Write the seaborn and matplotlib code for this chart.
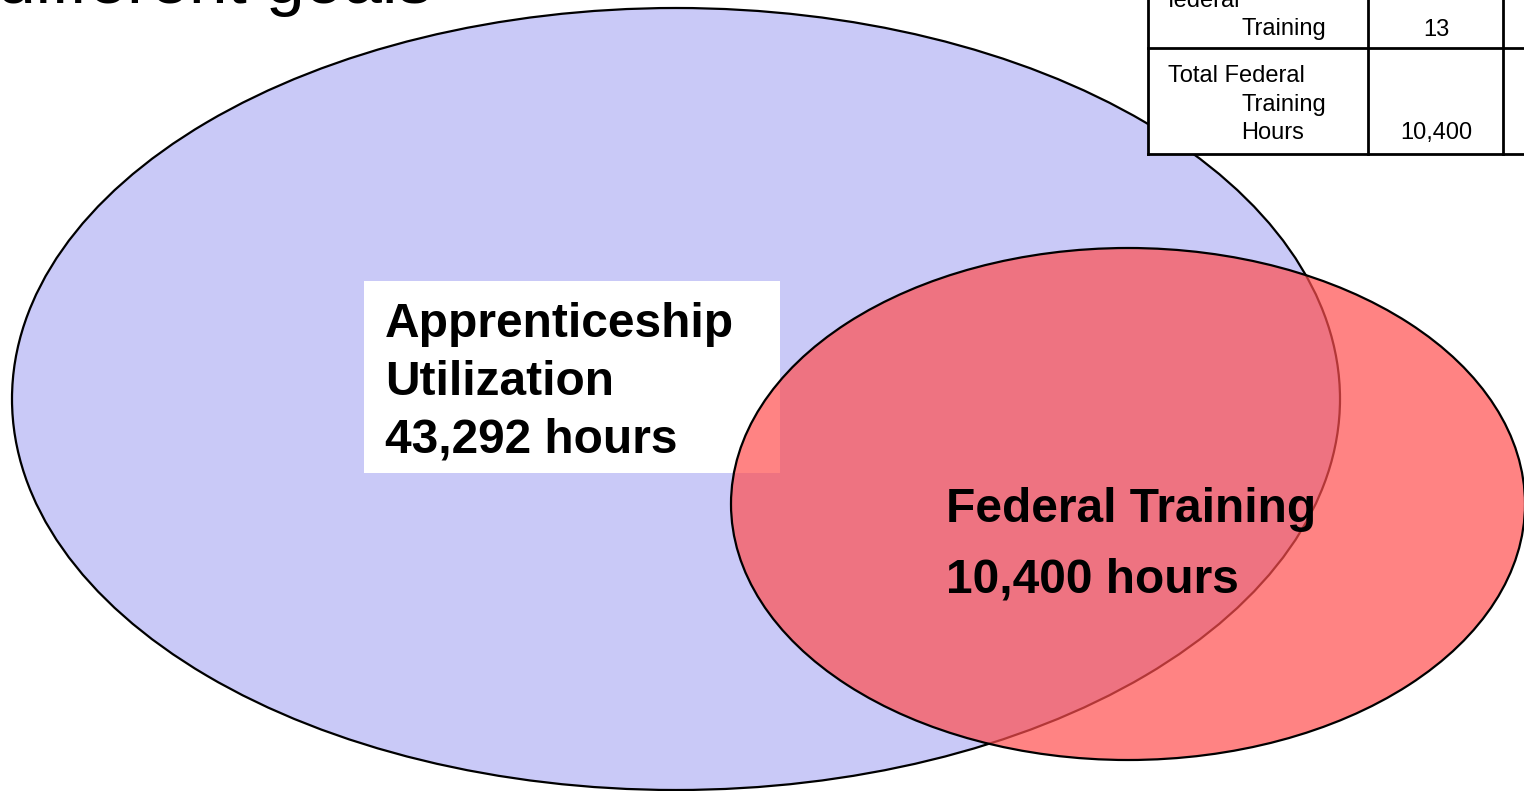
import matplotlib
matplotlib.use("Agg")
import matplotlib.pyplot as plt
from matplotlib.patches import Ellipse, Rectangle
import seaborn as sns

# data
set_names = ["Apprenticeship\nUtilization", "Federal Training"]
set_hours = [43292, 10400]
table_labels = ["federal\n      Training", "Total Federal\n      Training\n      Hours"]
table_values = ["13", "10,400"]
title_text = "different goals"

sns.set_theme(style="white")
plt.rcParams["font.family"] = ["Liberation Sans", "DejaVu Sans"]
plt.rcParams["text.color"] = "black"

fig = plt.figure(figsize=(15.24, 7.91), dpi=100)
ax = fig.add_axes([0, 0, 1, 1])
ax.set_xlim(0, 1524)
ax.set_ylim(791, 0)
ax.axis("off")

# big ellipse (apprenticeship) and smaller one (federal training), pixel layout
ax.add_patch(Ellipse((676, 399), 1328, 782, facecolor="#c9c9f7",
                     edgecolor="black", lw=1.6, zorder=1))

# white label box
ax.add_patch(Rectangle((364, 281), 416, 192, facecolor="white",
                       edgecolor="none", zorder=2))
lines_a = set_names[0].split("\n") + [f"{set_hours[0]:,} hours"]
for i, line in enumerate(lines_a):
    ax.text(385, 337 + i * 58, line, fontsize=34.5, fontweight="bold",
            va="baseline", ha="left", zorder=3)

ax.add_patch(Ellipse((1128, 504), 794, 512, facecolor=(1.0, 0.31, 0.31, 0.7),
                     edgecolor="black", lw=1.6, zorder=4))
ax.text(946, 522, set_names[1], fontsize=34.5, fontweight="bold",
        va="baseline", ha="left", zorder=5)
ax.text(946, 592, f"{set_hours[1]:,} hours", fontsize=34.5, fontweight="bold",
        va="baseline", ha="left", zorder=5)

# partial title at top
ax.text(432, 3, title_text, fontsize=50, ha="right", va="baseline", zorder=5)

# table fragment, top right
ax.add_patch(Rectangle((1148, -5), 400, 159, facecolor="white",
                       edgecolor="none", zorder=6))
for x in [1148, 1368, 1503]:
    ax.plot([x, x], [-5, 154], color="black", lw=2, zorder=7,
            solid_capstyle="projecting")
for y in [48, 154]:
    ax.plot([1148, 1530], [y, y], color="black", lw=2, zorder=7,
            solid_capstyle="projecting")

row_tops = [7, 82]
for top, lab, val in zip(row_tops, table_labels, table_values):
    n = lab.count("\n")
    for i, line in enumerate(lab.split("\n")):
        stripped = line.strip()
        x0 = 1241 if line.startswith(" ") else 1168
        ax.text(x0, top + i * 28.5, stripped, fontsize=17, ha="left",
                va="baseline", zorder=8)
    ax.text(1436, top + n * 28.5, val, fontsize=17, ha="center",
            va="baseline", zorder=8)

fig.savefig("out.png", dpi=100)
